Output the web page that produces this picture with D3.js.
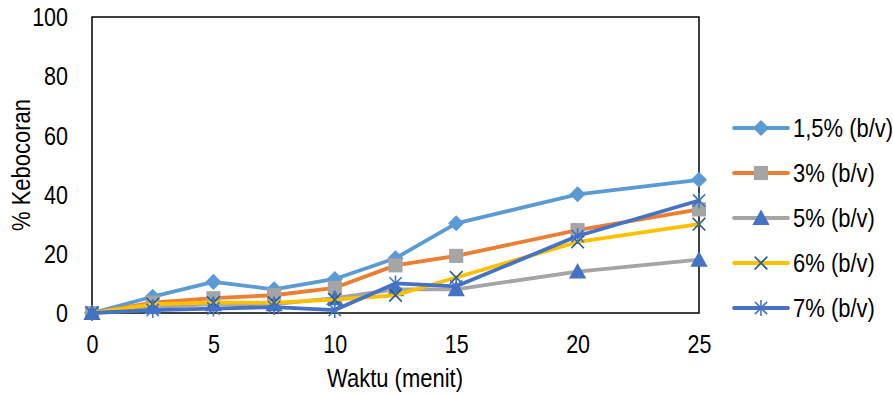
<!DOCTYPE html>
<html>
<head>
<meta charset="utf-8">
<script src="https://cdn.jsdelivr.net/npm/d3@7"></script>
<style>
  html, body { margin: 0; padding: 0; background: #fff; }
  svg { display: block; }
  text { font-family: "Liberation Sans", Arial, sans-serif; fill: #000; }
</style>
</head>
<body>
<svg id="chart" width="893" height="394"></svg>
<script>
// Leakage (% Kebocoran) over time for each concentration
const times = [0, 2.5, 5, 7.5, 10, 12.5, 15, 20, 25];
const seriesNames = ["1,5% (b/v)", "3% (b/v)", "5% (b/v)", "6% (b/v)", "7% (b/v)"];
const conc15 = [0, 5.5, 10.5, 8, 11.5, 18.5, 30.3, 40.1, 45];
const conc3  = [0, 3.5, 5, 6, 8.5, 16.1, 19.3, 28, 35];
const conc5  = [0, 2, 3, 3, 5, 8, 8, 14, 18];
const conc6  = [0, 3, 3.5, 3.5, 4.5, 6, 12, 24, 30];
const conc7  = [0, 1, 1.5, 2, 1, 10, 9, 26, 38];
const xTicks = [0, 5, 10, 15, 20, 25];
const yTicks = [0, 20, 40, 60, 80, 100];
const xTitle = "Waktu (menit)";
const yTitle = "% Kebocoran";

const lineColors   = ["#5B9BD5", "#ED7D31", "#A5A5A5", "#FFC000", "#4472C4"];
const markerColors = ["#5B9BD5", "#A5A5A5", "#4472C4", "#255E91", "#4472C4"];
const values = [conc15, conc3, conc5, conc6, conc7];

const svg = d3.select("#chart");
const plot = { left: 92, right: 699, top: 17, bottom: 313 };
const x = d3.scaleLinear().domain([0, 25]).range([plot.left, plot.right]);
const y = d3.scaleLinear().domain([0, 100]).range([plot.bottom, plot.top]);
const FS = 21.5;
const STRETCH = 1.2;

// custom marker shapes
const diamond = { draw(ctx, size) { const r = Math.sqrt(size) / 2 * Math.SQRT2;
  ctx.moveTo(0, -r); ctx.lineTo(r, 0); ctx.lineTo(0, r); ctx.lineTo(-r, 0); ctx.closePath(); } };
const square = { draw(ctx, size) { const r = Math.sqrt(size) / 2;
  ctx.rect(-r, -r, 2 * r, 2 * r); } };
const triangle = { draw(ctx, size) { const w = Math.sqrt(size); const h = w * 0.9;
  ctx.moveTo(0, -h * 0.55); ctx.lineTo(w / 2, h * 0.45); ctx.lineTo(-w / 2, h * 0.45); ctx.closePath(); } };
const cross = { draw(ctx, size) { const r = Math.sqrt(size) / 2;
  ctx.moveTo(-r, -r); ctx.lineTo(r, r); ctx.moveTo(r, -r); ctx.lineTo(-r, r); } };
const star = { draw(ctx, size) { const r = Math.sqrt(size) / 2;
  ctx.moveTo(-r, -r); ctx.lineTo(r, r); ctx.moveTo(r, -r); ctx.lineTo(-r, r);
  ctx.moveTo(0, -r * 1.3); ctx.lineTo(0, r * 1.3); } };

const markerDefs = [
  { type: diamond, size: 130, filled: true },
  { type: square, size: 200, filled: true },
  { type: triangle, size: 300, filled: true },
  { type: cross, size: 160, filled: false },
  { type: star, size: 150, filled: false }
];

function drawMarker(g, i, cx, cy) {
  const m = markerDefs[i];
  const p = g.append("path")
    .attr("d", d3.symbol().type(m.type).size(m.size)())
    .attr("transform", `translate(${cx},${cy})`);
  if (m.filled) p.attr("fill", markerColors[i]).attr("stroke", "none");
  else p.attr("fill", "none").attr("stroke", markerColors[i]).attr("stroke-width", 1.6);
}

// frame
svg.append("rect")
  .attr("x", plot.left).attr("y", plot.top)
  .attr("width", plot.right - plot.left).attr("height", plot.bottom - plot.top)
  .attr("fill", "none").attr("stroke", "#000").attr("stroke-width", 1.5);

// axes
const xAxis = svg.append("g").attr("transform", `translate(0,${plot.bottom})`)
  .call(d3.axisBottom(x).tickValues(xTicks).tickSize(0).tickFormat(d3.format("d")));
const yAxis = svg.append("g").attr("transform", `translate(${plot.left},0)`)
  .call(d3.axisLeft(y).tickValues(yTicks).tickSize(0).tickFormat(d3.format("d")));
[xAxis, yAxis].forEach(a => a.select(".domain").remove());
xAxis.selectAll(".tick text")
  .attr("y", null).attr("dy", null)
  .attr("dominant-baseline", "central")
  .attr("transform", `translate(0,31) scale(1,${STRETCH})`)
  .style("font-size", FS + "px").style("font-family", "'Liberation Sans', Arial, sans-serif").attr("fill", "#000");
yAxis.selectAll(".tick text")
  .attr("x", null).attr("dy", null)
  .attr("dominant-baseline", "central")
  .attr("text-anchor", "end")
  .attr("transform", `translate(-24,0) scale(1,${STRETCH})`)
  .style("font-size", FS + "px").style("font-family", "'Liberation Sans', Arial, sans-serif").attr("fill", "#000");

// axis titles
svg.append("text")
  .attr("transform", `translate(${(plot.left + plot.right) / 2 - 0.5},378) scale(1,${STRETCH})`)
  .attr("text-anchor", "middle").attr("dominant-baseline", "central")
  .style("font-size", "22px").text(xTitle);
svg.append("text")
  .attr("transform", `translate(21,${(plot.top + plot.bottom) / 2}) rotate(-90) scale(1,${STRETCH})`)
  .attr("text-anchor", "middle").attr("dominant-baseline", "central")
  .style("font-size", "22px").text(yTitle);

// series lines and markers
const line = d3.line().x((d, j) => x(times[j])).y(d => y(d));
values.forEach((vals, i) => {
  const g = svg.append("g");
  g.append("path").datum(vals)
    .attr("d", line)
    .attr("fill", "none")
    .attr("stroke", lineColors[i])
    .attr("stroke-width", 3.8)
    .attr("stroke-linejoin", "round")
    .attr("stroke-linecap", "round");
  vals.forEach((v, j) => drawMarker(g, i, x(times[j]), y(v)));
});

// legend
const legend = svg.append("g");
seriesNames.forEach((name, i) => {
  const ly = 128 + i * 45;
  const g = legend.append("g");
  g.append("line").attr("x1", 734).attr("x2", 788).attr("y1", ly).attr("y2", ly)
    .attr("stroke", lineColors[i]).attr("stroke-width", 3.8).attr("stroke-linecap", "round");
  drawMarker(g, i, 761, ly);
  g.append("text")
    .attr("transform", `translate(793,${ly}) scale(1,${STRETCH})`)
    .attr("dominant-baseline", "central")
    .style("font-size", "22px").text(name);
});
</script>
</body>
</html>
